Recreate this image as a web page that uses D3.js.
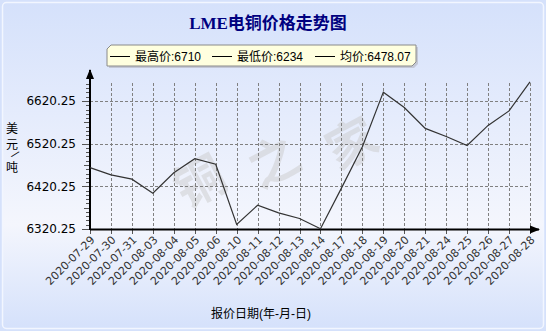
<!DOCTYPE html>
<html>
<head>
<meta charset="utf-8">
<script src="https://cdn.jsdelivr.net/npm/d3@7"></script>
<style>
  body { margin: 0; background: #fff; }
  svg { display: block; font-family: "DejaVu Sans", Verdana, sans-serif; }
</style>
</head>
<body>
<div id="chart"></div>
<script>
// data
const dates = ["2020-07-29","2020-07-30","2020-07-31","2020-08-03","2020-08-04","2020-08-05",
  "2020-08-06","2020-08-10","2020-08-11","2020-08-12","2020-08-13","2020-08-14","2020-08-17",
  "2020-08-18","2020-08-19","2020-08-20","2020-08-21","2020-08-24","2020-08-25","2020-08-26",
  "2020-08-27","2020-08-28"];
const prices = [6464, 6447, 6437, 6404, 6452, 6485, 6472, 6331, 6376, 6358, 6345, 6321, 6416,
  6513, 6641, 6605, 6556, 6537, 6516, 6563, 6597, 6665];
const yTicks = [6320.25, 6420.25, 6520.25, 6620.25];
const legendItems = ["最高价:6710", "最低价:6234", "均价:6478.07"];

const width = 546, height = 331;
const margin = {top: 101, right: 16, bottom: 102, left: 90};

const svg = d3.select("#chart").append("svg")
  .attr("width", width).attr("height", height);

const defs = svg.append("defs");
const bg = defs.append("linearGradient").attr("id", "bg")
  .attr("x1", 0).attr("y1", 0).attr("x2", 0).attr("y2", 1);
bg.append("stop").attr("offset", "0%").attr("stop-color", "#d5e1fb");
bg.append("stop").attr("offset", "68%").attr("stop-color", "#f4f6fd");
bg.append("stop").attr("offset", "100%").attr("stop-color", "#d5e1fb");
defs.append("marker").attr("id", "arrow")
  .attr("viewBox", "0 0 10 10").attr("refX", 9).attr("refY", 5)
  .attr("markerWidth", 5).attr("markerHeight", 5).attr("markerUnits", "strokeWidth")
  .attr("orient", "auto")
  .append("path").attr("d", "M0,1L10,5L0,9Z").attr("fill", "#000");

// background + frame
svg.append("rect").attr("width", width).attr("height", height).attr("fill", "#d5e1fb");
svg.append("rect").attr("x", 2.5).attr("y", 2.5).attr("width", width - 5).attr("height", height - 5)
  .attr("rx", 4).attr("fill", "url(#bg)").attr("stroke", "#f2f6ff").attr("stroke-width", 1.5);

// watermark
const wm = [["铜", 198, 178], ["之", 272, 158], ["家", 350, 140]];
svg.append("g").selectAll("text").data(wm).join("text")
  .attr("transform", d => `translate(${d[1]},${d[2]}) rotate(-28)`)
  .attr("text-anchor", "middle").attr("dominant-baseline", "central")
  .attr("font-family", "Noto Sans CJK SC").attr("font-weight", "bold")
  .attr("font-size", 50).attr("fill", "#c8c8c8").attr("opacity", 0.45)
  .text(d => d[0]);

const x = d3.scalePoint().domain(dates).range([margin.left, width - margin.right]);
const y = d3.scaleLinear().domain([6320.25, 6620.25]).range([229, margin.top]);

// grid
svg.append("g").selectAll("line").data(yTicks.slice(1)).join("line")
  .attr("x1", margin.left).attr("x2", x(dates[dates.length - 1]))
  .attr("y1", d => Math.round(y(d)) + 0.5).attr("y2", d => Math.round(y(d)) + 0.5)
  .attr("stroke", "#808080").attr("stroke-dasharray", "3,2");
svg.append("g").selectAll("line").data(dates.slice(1)).join("line")
  .attr("x1", d => Math.round(x(d)) + 0.5).attr("x2", d => Math.round(x(d)) + 0.5)
  .attr("y1", 83).attr("y2", 229)
  .attr("stroke", "#808080").attr("stroke-dasharray", "3,2");

// y axis ticks (major, mid, minor)
const minor = d3.range(6320.25, 6670.25, 10);
svg.append("g").selectAll("line").data(minor).join("line")
  .attr("x1", d => {
    const k = Math.round((d - 6320.25) / 10);
    return k % 10 === 0 ? 82 : (k % 5 === 0 ? 84 : 86);
  })
  .attr("x2", margin.left)
  .attr("y1", d => Math.round(y(d)) + 0.5).attr("y2", d => Math.round(y(d)) + 0.5)
  .attr("stroke", "#555");

const yAxis = d3.axisLeft(y).tickValues(yTicks).tickSize(0).tickPadding(14)
  .tickFormat(d3.format(".2f"));
const gy = svg.append("g").attr("transform", `translate(${margin.left},0)`).call(yAxis);
gy.select(".domain").remove();
gy.selectAll("text").attr("font-size", 12).attr("fill", "#000")
  .attr("font-family", "DejaVu Sans");

// x ticks
svg.append("g").selectAll("line").data(dates).join("line")
  .attr("x1", d => Math.round(x(d)) + 0.5).attr("x2", d => Math.round(x(d)) + 0.5)
  .attr("y1", 229).attr("y2", 234).attr("stroke", "#555");

// axes with arrows
svg.append("line").attr("x1", margin.left).attr("x2", 539).attr("y1", 229.5).attr("y2", 229.5)
  .attr("stroke", "#000").attr("stroke-width", 2).attr("marker-end", "url(#arrow)");
svg.append("line").attr("x1", margin.left).attr("x2", margin.left).attr("y1", 230).attr("y2", 70)
  .attr("stroke", "#000").attr("stroke-width", 2).attr("marker-end", "url(#arrow)");

// x labels
svg.append("g").selectAll("text").data(dates).join("text")
  .attr("transform", d => `translate(${x(d) + 3},${238}) rotate(-45)`)
  .attr("text-anchor", "end").attr("dominant-baseline", "central")
  .attr("font-size", 11).attr("fill", "#333")
  .text(d => d);

// price line
const line = d3.line().x((d, i) => x(dates[i])).y(d => y(d));
svg.append("path").datum(prices).attr("d", line)
  .attr("fill", "none").attr("stroke", "#333").attr("stroke-width", 1.2);

// title
svg.append("text").attr("x", 268).attr("y", 29).attr("text-anchor", "middle")
  .attr("font-family", "Liberation Serif, Noto Sans CJK SC").attr("font-weight", "bold")
  .attr("font-size", 17).attr("fill", "#00007f").text("LME电铜价格走势图");

// legend
const lg = svg.append("g").attr("transform", "translate(107,45)");
const lw = 309, lh = 21, c = 4;
const lp = `M${c},0H${lw}V${lh - c}L${lw - c},${lh}H0V${c}Z`;
lg.append("path").attr("d", lp).attr("transform", "translate(2,2)").attr("fill", "#c4c8d6");
lg.append("path").attr("d", lp).attr("fill", "#ffffdf").attr("stroke", "#8a8a8a");
const lx = [3, 105, 208];
lg.selectAll("g.item").data(legendItems).join("g").attr("class", "item")
  .attr("transform", (d, i) => `translate(${lx[i]},0)`)
  .each(function(d) {
    const g = d3.select(this);
    g.append("line").attr("x1", 0).attr("x2", 20).attr("y1", 11.5).attr("y2", 11.5)
      .attr("stroke", "#000");
    g.append("text").attr("x", 25).attr("y", 16).attr("font-size", 12)
      .attr("font-family", "Liberation Sans, Noto Sans CJK SC").text(d);
  });

// axis titles
[["美", 133], ["元", 149]].forEach(t => {
  svg.append("text").attr("x", 12).attr("y", t[1]).attr("text-anchor", "middle")
    .attr("font-size", 12).attr("font-family", "Noto Sans CJK SC").text(t[0]);
});
svg.append("text").attr("transform", "translate(13,157) rotate(40)").attr("text-anchor", "middle")
  .attr("font-size", 11).attr("font-family", "DejaVu Sans").text("/");
svg.append("text").attr("x", 12).attr("y", 172).attr("text-anchor", "middle")
  .attr("font-size", 12).attr("font-family", "Noto Sans CJK SC").text("吨");

svg.append("text").attr("x", 261).attr("y", 318).attr("text-anchor", "middle")
  .attr("font-size", 12).attr("font-family", "Liberation Sans, Noto Sans CJK SC").text("报价日期(年-月-日)");
</script>
</body>
</html>
